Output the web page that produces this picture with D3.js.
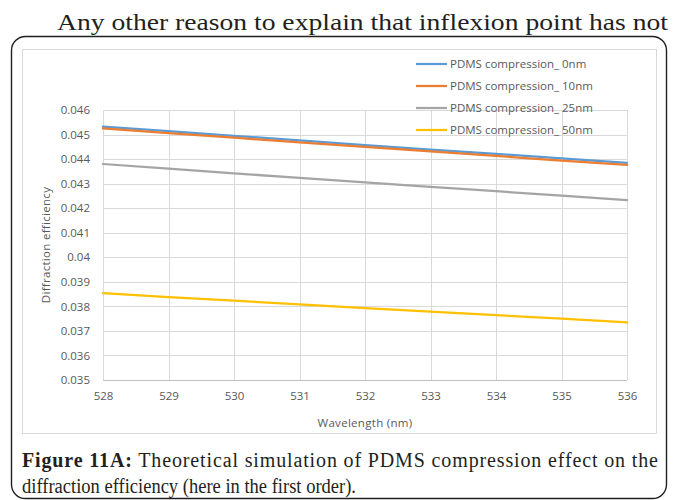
<!DOCTYPE html>
<html>
<head>
<meta charset="utf-8">
<script src="https://cdn.jsdelivr.net/npm/d3@7/dist/d3.min.js"></script>
<style>
  html, body { margin: 0; padding: 0; background: #fff; }
  svg { display: block; }
</style>
</head>
<body>
<svg id="fig" width="673" height="500"></svg>
<script>
// Wavelengths (nm) sampled by the simulation
const wavelengths = [528, 529, 530, 531, 532, 533, 534, 535, 536];

// First-order diffraction efficiency for each PDMS compression
const eff0nm  = [0.04532, 0.04514, 0.04495, 0.04476, 0.04457, 0.04439, 0.04421, 0.04403, 0.04385];
const eff10nm = [0.04525, 0.04506, 0.04487, 0.04468, 0.04450, 0.04431, 0.04413, 0.04394, 0.04376];
const eff25nm = [0.04380, 0.04361, 0.04342, 0.04323, 0.04305, 0.04287, 0.04269, 0.04251, 0.04233];
const eff50nm = [0.03854, 0.03838, 0.03823, 0.03808, 0.03793, 0.03779, 0.03764, 0.03750, 0.03735];

const seriesNames = ["PDMS compression_ 0nm", "PDMS compression_ 10nm", "PDMS compression_ 25nm", "PDMS compression_ 50nm"];
const seriesColors = ["#5B9BD5", "#ED7D31", "#A5A5A5", "#FFC000"];

const xTicks = [528, 529, 530, 531, 532, 533, 534, 535, 536];
const yTicks = [0.035, 0.036, 0.037, 0.038, 0.039, 0.04, 0.041, 0.042, 0.043, 0.044, 0.045, 0.046];

const series = [eff0nm, eff10nm, eff25nm, eff50nm].map((vals, i) => ({
  name: seriesNames[i],
  color: seriesColors[i],
  points: wavelengths.map((w, j) => ({ x: w, y: vals[j] }))
}));

const svg = d3.select("#fig");
const serif = "'Liberation Serif', 'DejaVu Serif', serif";
const sans = "'Open Sans', 'Noto Sans', sans-serif";

// Running text above the figure
svg.append("text")
  .attr("x", 57).attr("y", 30)
  .attr("font-family", serif).attr("font-size", 23)
  .attr("fill", "#231f20")
  .attr("textLength", 611).attr("lengthAdjust", "spacingAndGlyphs")
  .text("Any other reason to explain that inflexion point has not");

// Figure box
svg.append("rect")
  .attr("x", 11.5).attr("y", 36.5).attr("width", 655).attr("height", 462)
  .attr("rx", 14).attr("ry", 14)
  .attr("fill", "none").attr("stroke", "#231f20").attr("stroke-width", 1.4);

// Chart frame
svg.append("rect")
  .attr("x", 22.5).attr("y", 49.5).attr("width", 634).attr("height", 384)
  .attr("fill", "#fff").attr("stroke", "#d9d9d9").attr("stroke-width", 1);

const plot = { left: 103, right: 627, top: 110, bottom: 380 };

const x = d3.scaleLinear().domain([528, 536]).range([plot.left, plot.right]);
const y = d3.scaleLinear().domain([0.035, 0.046]).range([plot.bottom, plot.top]);

// Gridlines
const g = svg.append("g");
g.selectAll("line.h").data(yTicks).join("line")
  .attr("x1", plot.left).attr("x2", plot.right)
  .attr("y1", d => Math.round(y(d)) + 0.5).attr("y2", d => Math.round(y(d)) + 0.5)
  .attr("stroke", d => d === 0.035 ? "#bfbfbf" : "#d9d9d9").attr("stroke-width", 1);
g.selectAll("line.v").data(xTicks).join("line")
  .attr("y1", plot.top).attr("y2", plot.bottom)
  .attr("x1", d => Math.round(x(d)) + 0.5).attr("x2", d => Math.round(x(d)) + 0.5)
  .attr("stroke", "#d9d9d9").attr("stroke-width", 1);

// Axes (labels only; lines come from the grid)
const yAxis = d3.axisLeft(y).tickValues(yTicks).tickSize(0).tickPadding(13)
  .tickFormat(d => String(+d.toFixed(3)));
const ya = svg.append("g").attr("transform", `translate(${plot.left},0)`).call(yAxis);
const xAxis = d3.axisBottom(x).tickValues(xTicks).tickSize(0).tickPadding(12)
  .tickFormat(d3.format("d"));
const xa = svg.append("g").attr("transform", `translate(0,${plot.bottom})`).call(xAxis);
[ya, xa].forEach(a => {
  a.select(".domain").remove();
  a.selectAll("text").attr("font-family", sans).attr("font-size", 11.5).attr("fill", "#595959");
});

// Axis titles
svg.append("text")
  .attr("transform", `translate(50,${(plot.top + plot.bottom) / 2}) rotate(-90)`)
  .attr("text-anchor", "middle")
  .attr("font-family", sans).attr("font-size", 11.5).attr("fill", "#595959")
  .attr("letter-spacing", 0.3)
  .text("Diffraction efficiency");
svg.append("text")
  .attr("x", (plot.left + plot.right) / 2).attr("y", 427)
  .attr("text-anchor", "middle")
  .attr("font-family", sans).attr("font-size", 11.5).attr("fill", "#595959")
  .attr("letter-spacing", 0.3)
  .text("Wavelength (nm)");

// Series lines
const line = d3.line().x(d => x(d.x)).y(d => y(d.y));
svg.append("g").selectAll("path").data(series).join("path")
  .attr("d", d => line(d.points))
  .attr("fill", "none")
  .attr("stroke", d => d.color)
  .attr("stroke-width", 2.25)
  .attr("stroke-linecap", "round");

// Legend
const legend = svg.append("g");
const rows = legend.selectAll("g").data(series).join("g")
  .attr("transform", (d, i) => `translate(416,${64 + i * 22})`);
rows.append("line")
  .attr("x1", 0).attr("x2", 31).attr("y1", 0).attr("y2", 0)
  .attr("stroke", d => d.color).attr("stroke-width", 2.25);
rows.append("text")
  .attr("x", 34).attr("y", 4)
  .attr("font-family", sans).attr("font-size", 11.5).attr("fill", "#595959")
  .text(d => d.name);

// Caption
const cap1 = svg.append("text")
  .attr("x", 22).attr("y", 467)
  .attr("font-family", serif).attr("font-size", 20).attr("fill", "#231f20")
  .attr("textLength", 636).attr("lengthAdjust", "spacing");
cap1.append("tspan").attr("font-weight", "bold").text("Figure 11A:");
cap1.append("tspan").text(" Theoretical simulation of PDMS compression effect on the");
svg.append("text")
  .attr("x", 22).attr("y", 493)
  .attr("font-family", serif).attr("font-size", 20).attr("fill", "#231f20")
  .attr("textLength", 334).attr("lengthAdjust", "spacingAndGlyphs")
  .text("diffraction efficiency (here in the first order).");
</script>
</body>
</html>
